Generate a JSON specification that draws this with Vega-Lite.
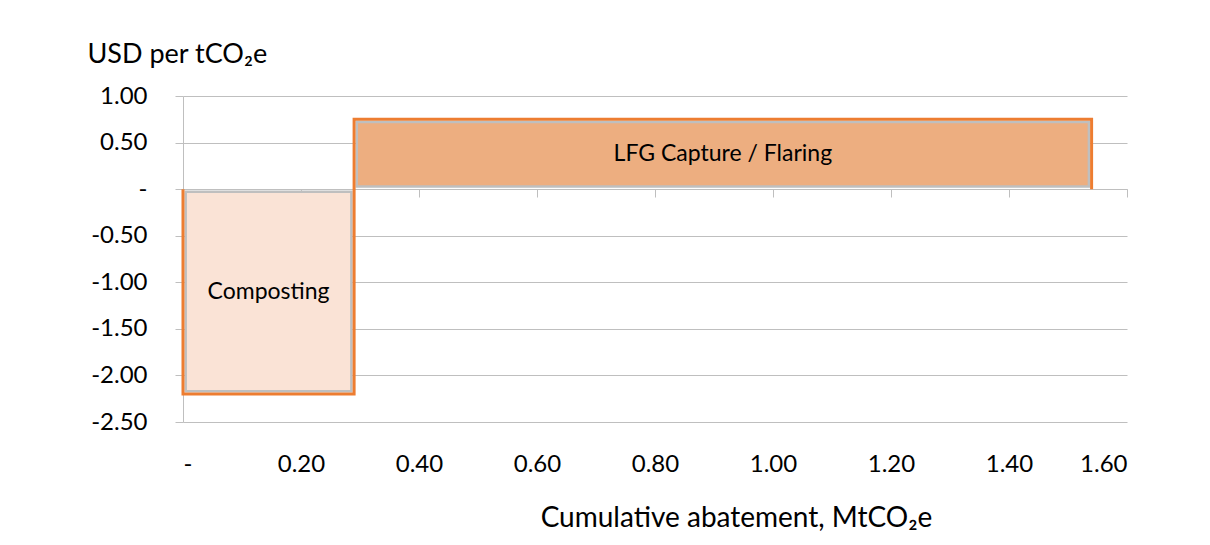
{
  "$schema": "https://vega.github.io/schema/vega-lite/v6.json",
  "width": 944,
  "height": 326,
  "autosize": {"type": "none"},
  "padding": {"left": 183, "top": 96, "right": 83, "bottom": 123},
  "background": "white",
  "config": {
    "font": "Lato",
    "view": {"stroke": null},
    "axis": {"labelFont": "Lato", "titleFont": "Lato", "labelColor": "#000000", "titleColor": "#000000", "titleFontWeight": "normal"}
  },
  "datasets": {
    "bars": [
      {"option": "Composting", "x0": 0, "x1": 0.29, "cost": -2.2},
      {"option": "LFG Capture / Flaring", "x0": 0.29, "x1": 1.54, "cost": 0.75}
    ],
    "outline": [
      {"i": 0, "x": 0, "y": 0},
      {"i": 1, "x": 0, "y": -2.2},
      {"i": 2, "x": 0.29, "y": -2.2},
      {"i": 3, "x": 0.29, "y": 0.75},
      {"i": 4, "x": 1.54, "y": 0.75},
      {"i": 5, "x": 1.54, "y": 0}
    ]
  },
  "resolve": {"axis": {"x": "independent", "y": "independent"}},
  "layer": [
    {
      "data": {"name": "bars"},
      "mark": {"type": "rect", "opacity": 0},
      "encoding": {
        "x": {"field": "x0", "type": "quantitative", "scale": {"domain": [0, 1.6], "nice": false},
          "axis": {"values": [0, 0.2, 0.4, 0.6, 0.8, 1.0, 1.2, 1.4, 1.6], "labelExpr": "datum.value == 0 ? '-' : format(datum.value, '.2f')", "domain": false, "ticks": false, "grid": false, "labelFontSize": 24, "labelPadding": 30, "title": "Cumulative abatement, MtCO₂e", "titleFontSize": 28, "titleBaseline": "alphabetic", "titleY": 104, "titleX": 553}},
        "x2": {"field": "x1"},
        "y": {"field": "cost", "type": "quantitative", "scale": {"domain": [-2.5, 1], "nice": false},
          "axis": {"values": [-2.5, -2, -1.5, -1, -0.5, 0, 0.5, 1], "labelExpr": "datum.value == 0 ? '-' : replace(format(datum.value, '.2f'), '−', '-')", "domain": true, "domainColor": "#BFBFBF", "ticks": true, "tickSize": 8, "tickColor": "#BFBFBF", "grid": true, "gridColor": "#BFBFBF", "labelFontSize": 24, "labelPadding": 28, "title": "USD per tCO₂e", "titleFontSize": 27, "titleAngle": 0, "titleAlign": "left", "titleBaseline": "alphabetic", "titleX": -96, "titleY": -34}},
        "y2": {"datum": 0}
      }
    },
    {
      "data": {"name": "bars"},
      "mark": {"type": "rect", "stroke": "#BFBFBF", "strokeWidth": 2.5,
        "xOffset": 2.7, "x2Offset": -2.7,
        "yOffset": {"expr": "datum.cost < 0 ? -2.7 : 2.7"},
        "y2Offset": {"expr": "datum.cost < 0 ? 2.7 : -2.7"}},
      "encoding": {
        "x": {"field": "x0", "type": "quantitative", "axis": null},
        "x2": {"field": "x1"},
        "y": {"field": "cost", "type": "quantitative", "axis": null},
        "y2": {"datum": 0},
        "fill": {"field": "option", "type": "nominal", "legend": null,
          "scale": {"domain": ["Composting", "LFG Capture / Flaring"], "range": ["#FAE3D6", "#EDAE80"]}}
      }
    },
    {
      "data": {"name": "outline"},
      "mark": {"type": "line", "color": "#ED7D31", "strokeWidth": 3, "interpolate": "linear"},
      "encoding": {
        "x": {"field": "x", "type": "quantitative",
          "axis": {"orient": "bottom", "offset": -233, "values": [0, 0.2, 0.4, 0.6, 0.8, 1.0, 1.2, 1.4, 1.6], "labels": false, "domain": true, "domainColor": "#BFBFBF", "ticks": true, "tickSize": 8, "tickColor": "#BFBFBF", "grid": false, "title": null}},
        "y": {"field": "y", "type": "quantitative", "axis": null},
        "order": {"field": "i", "type": "quantitative"}
      }
    },
    {
      "data": {"name": "bars"},
      "transform": [
        {"calculate": "(datum.x0 + datum.x1) / 2", "as": "xm"},
        {"calculate": "datum.cost / 2", "as": "ym"}
      ],
      "mark": {"type": "text", "fontSize": 23, "font": "Lato", "color": "#000000"},
      "encoding": {
        "x": {"field": "xm", "type": "quantitative", "axis": null},
        "y": {"field": "ym", "type": "quantitative", "axis": null},
        "text": {"field": "option"}
      }
    }
  ]
}
